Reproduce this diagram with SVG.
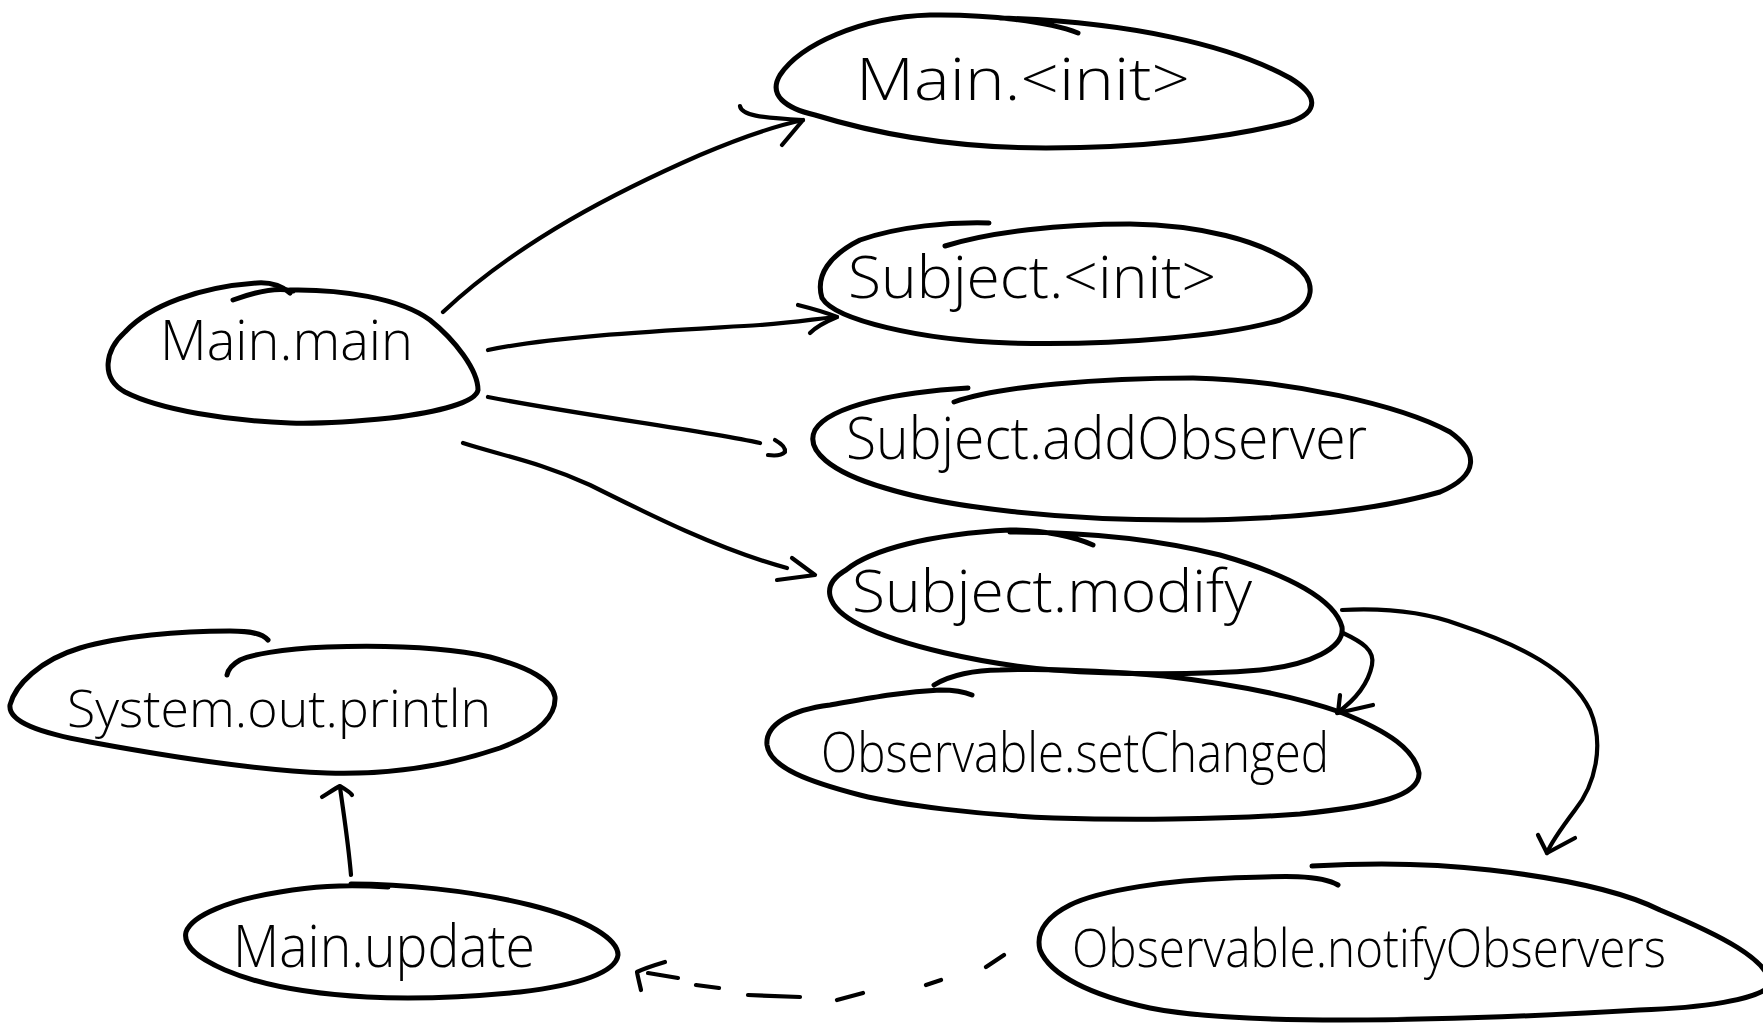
<svg xmlns="http://www.w3.org/2000/svg" width="1763" height="1027" viewBox="0 0 1763 1027">
<style>
.o{fill:none;stroke:#000;stroke-width:5;stroke-linecap:round;stroke-linejoin:round}
.c{fill:none;stroke:#000;stroke-width:4.2;stroke-linecap:round;stroke-linejoin:round}
.t{font-family:"Open Sans","Liberation Sans",sans-serif;font-weight:300;fill:#000}
</style>
<rect width="1763" height="1027" fill="#fff"/>
<g id="node-main-init">
<path class="o" d="M1078,33 C1050,22 990,14 930,15 C860,17 800,45 780,75 C768,95 785,108 815,115 C880,135 960,148 1046,148 C1140,148 1230,138 1290,122 C1320,112 1318,95 1290,78 C1230,45 1130,22 1000,18"/>
<text class="t" x="856" y="100" font-size="58" textLength="334" lengthAdjust="spacingAndGlyphs">Main.&lt;init&gt;</text>
</g>
<g id="node-subject-init">
<path class="o" d="M989,223 C950,222 900,226 860,240 C830,255 815,275 822,298 C835,320 920,340 1010,343 C1120,346 1230,335 1280,320 C1320,305 1315,280 1295,265 C1260,240 1200,225 1130,224 C1060,224 990,232 945,246"/>
<text class="t" x="848" y="298" font-size="58" textLength="368" lengthAdjust="spacingAndGlyphs">Subject.&lt;init&gt;</text>
</g>
<g id="node-subject-addobserver">
<path class="o" d="M954,402 C1000,386 1100,378 1193,378 C1290,380 1400,405 1450,432 C1478,452 1480,475 1440,492 C1370,512 1280,520 1180,520 C1060,520 950,508 885,488 C830,472 805,450 815,430 C830,405 900,392 968,388"/>
<text class="t" x="846" y="459" font-size="58" textLength="521" lengthAdjust="spacingAndGlyphs">Subject.addObserver</text>
</g>
<g id="node-subject-modify">
<path class="o" d="M1010,532 C1090,532 1160,540 1220,555 C1290,575 1335,600 1342,627 C1345,648 1310,665 1260,670 C1200,675 1120,675 1054,670 C980,664 900,645 860,625 C825,607 820,585 846,570 C870,550 930,534 1010,530 C1045,530 1075,537 1093,545"/>
<text class="t" x="852" y="612" font-size="58" textLength="400" lengthAdjust="spacingAndGlyphs">Subject.modify</text>
</g>
<g id="node-observable-setchanged">
<path class="o" d="M934,685 C950,675 975,670 1000,670 C1060,668 1120,672 1164,676 C1240,685 1300,698 1340,712 C1390,732 1415,750 1419,773 C1420,795 1380,806 1300,814 C1220,820 1120,820 1054,818 C980,815 900,805 860,795 C810,782 770,768 767,745 C765,725 790,710 830,705 C870,698 900,692 940,690 C955,690 965,692 972,695"/>
<text class="t" x="821" y="772" font-size="56" textLength="508" lengthAdjust="spacingAndGlyphs">Observable.setChanged</text>
</g>
<g id="node-observable-notifyobservers">
<path class="o" d="M1312,866 C1380,862 1440,864 1490,870 C1560,878 1620,890 1660,910 C1720,935 1770,960 1770,985 C1760,1000 1700,1008 1639,1010 C1540,1016 1440,1020 1342,1020 C1260,1020 1190,1016 1150,1008 C1090,995 1050,975 1040,950 C1035,930 1050,915 1070,905 C1100,890 1170,880 1231,878 C1280,876 1320,874 1338,885"/>
<text class="t" x="1072" y="967" font-size="54" textLength="594" lengthAdjust="spacingAndGlyphs">Observable.notifyObservers</text>
</g>
<g id="node-main-main">
<path class="o" d="M233,300 C255,292 278,287 293,291"/>
<path class="o" d="M290,290 C340,289 400,298 430,320 C455,340 478,370 478,390 C476,402 440,412 390,418 C350,422 320,424 290,423 C230,421 160,410 125,392 C100,378 105,350 125,332 C150,305 200,287 257,283 C272,282 283,287 290,293"/>
<text class="t" x="160" y="360" font-size="56" textLength="253" lengthAdjust="spacingAndGlyphs">Main.main</text>
</g>
<g id="node-system-out-println">
<path class="o" d="M268,640 C262,633 250,631 230,631 C180,631 120,636 80,648 C40,660 15,685 10,705 C8,722 40,733 90,742 C160,755 250,770 327,773 C390,775 450,765 500,748 C540,733 556,715 555,697 C552,680 530,668 490,657 C450,648 390,645 327,647 C280,649 250,655 240,660 C233,664 228,670 227,675"/>
<text class="t" x="67" y="727" font-size="52" textLength="424" lengthAdjust="spacingAndGlyphs">System.out.println</text>
</g>
<g id="node-main-update">
<path class="o" d="M351,884 C400,884 470,890 530,905 C590,920 618,940 618,955 C616,972 580,985 520,992 C460,998 410,999 367,997 C310,994 260,985 225,970 C195,957 183,945 186,932 C192,915 230,900 280,892 C310,887 340,884 388,887"/>
<text class="t" x="233" y="967" font-size="58" textLength="302" lengthAdjust="spacingAndGlyphs">Main.update</text>
</g>
<g id="connectors">
<path class="c" d="M443,312 C520,240 620,190 700,155 C740,138 775,126 803,120"/>
<path class="c" d="M740,106 C741,115 760,118 803,120 L782,145"/>
<path class="c" d="M488,350 C560,335 680,330 760,325 C800,322 820,318 837,317"/>
<path class="c" d="M798,305 C810,308 825,312 837,317 C825,322 815,328 810,333"/>
<path class="c" d="M488,397 C580,415 700,430 760,443"/>
<path class="c" d="M775,440 C782,444 786,448 785,452 C782,455 775,456 768,455"/>
<path class="c" d="M463,443 C500,455 540,462 590,485 C650,515 720,550 787,568"/>
<path class="c" d="M792,558 L815,575 L777,580"/>
<path class="c" d="M1343,633 C1362,642 1375,650 1372,665 C1368,685 1355,700 1337,713"/>
<path class="c" d="M1340,695 L1338,713 L1373,705"/>
<path class="c" d="M1342,610 C1380,608 1420,610 1460,625 C1520,645 1570,670 1590,710 C1605,745 1595,785 1575,810 C1560,830 1550,845 1547,853"/>
<path class="c" d="M1538,835 L1547,853 L1575,838"/>
<path class="c" d="M351,875 C348,840 343,810 340,787"/>
<path class="c" d="M322,797 C330,792 336,788 340,786 C345,789 350,792 352,795"/>
<path class="c" d="M1004,955 L986,967 M941,980 L926,985 M863,993 L837,1000 M800,997 L748,995 M719,988 L696,985"/>
<path class="c" d="M665,962 C655,965 645,968 637,972 C638,978 640,985 641,990 M648,973 L678,978"/>
</g>
</svg>
